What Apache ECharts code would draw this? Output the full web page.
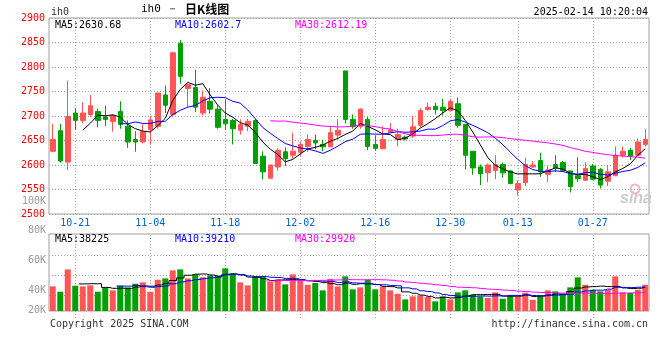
<!DOCTYPE html>
<html><head><meta charset="utf-8">
<script src="https://cdn.jsdelivr.net/npm/echarts@6/dist/echarts.min.js"></script>
<style>html,body{margin:0;padding:0;background:#fff}#c{width:660px;height:360px}</style>
</head><body><div id="c"></div>
<script>
const dates = ['10-16','10-17','10-18',
'10-21','10-22','10-23','10-24','10-25','10-28','10-29','10-30','10-31',
'11-01','11-04','11-05','11-06','11-07','11-08','11-11','11-12','11-13','11-14','11-15','11-18','11-19','11-20','11-21','11-22','11-25','11-26','11-27','11-28','11-29',
'12-02','12-03','12-04','12-05','12-06','12-09','12-10','12-11','12-12','12-13','12-16','12-17','12-18','12-19','12-20','12-23','12-24','12-25','12-26','12-27',
'12-30','12-31','01-02','01-03','01-06','01-07','01-08','01-09','01-10',
'01-13','01-14','01-15','01-16','01-17','01-20','01-21','01-22','01-23','01-24',
'01-27','02-06','02-07','02-10','02-11','02-12','02-13','02-14'];
const labelDates = ['10-21','11-04','11-18','12-02','12-16','12-30','01-13','01-27'];
const opens = [2628,2670,2606,2706,2691,2703,2709,2698,2689,2709,
2679,2652,2647,2672,2679,2743,2703,2848,2756,2758,
2706,2730,2714,2693,2691,2671,2679,2691,2618,2573,
2596,2627,2620,2626,2638,2650,2642,2637,2661,2792,
2693,2679,2693,2642,2633,2667,2652,2657,2659,2681,
2713,2720,2718,2711,2725,2683,2628,2596,2584,2589,
2601,2588,2549,2564,2596,2609,2581,2601,2605,2588,
2578,2569,2598,2591,2567,2578,2620,2630,2620,2642];
const closes = [2652,2608,2699,2691,2706,2721,2691,2693,2701,2683,
2647,2647,2668,2692,2747,2722,2829,2781,2764,2718,
2738,2714,2677,2684,2674,2683,2689,2603,2586,2600,
2630,2613,2628,2642,2652,2645,2637,2666,2671,2693,
2679,2714,2638,2634,2652,2672,2662,2653,2678,2711,
2718,2713,2711,2730,2681,2620,2594,2582,2600,2601,
2584,2562,2562,2601,2600,2586,2590,2594,2589,2556,
2572,2593,2571,2559,2586,2620,2628,2618,2647,2652];
const highs = [2684,2684,2772,2716,2728,2743,2715,2721,2704,2730,
2691,2669,2683,2700,2747,2762,2831,2855,2767,2794,
2752,2757,2721,2734,2694,2693,2694,2694,2628,2600,
2634,2636,2666,2647,2662,2662,2652,2679,2693,2792,
2703,2716,2698,2660,2679,2686,2674,2660,2700,2716,
2727,2727,2735,2735,2738,2683,2628,2601,2603,2620,
2605,2588,2569,2615,2608,2625,2598,2620,2608,2588,
2616,2606,2602,2594,2599,2638,2638,2635,2654,2674];
const lows = [2626,2605,2590,2672,2685,2698,2677,2680,2668,2674,
2635,2627,2644,2642,2674,2706,2698,2766,2718,2708,
2701,2705,2674,2672,2642,2662,2669,2603,2571,2573,
2588,2598,2613,2618,2627,2632,2628,2637,2652,2685,
2674,2674,2630,2630,2633,2666,2638,2650,2655,2677,
2711,2703,2701,2710,2676,2591,2580,2559,2565,2571,
2574,2562,2537,2557,2594,2576,2565,2586,2586,2544,
2565,2567,2569,2552,2557,2578,2615,2610,2620,2638];
const volumes = [39700,35400,53300,40200,39700,40500,35400,38600,36500,40200,
38900,41800,42900,35400,45000,46100,52500,53300,46100,49300,
46900,48500,48200,54100,50100,42900,40500,47700,47700,43200,
45000,41300,49300,44200,41000,42400,36500,45600,39700,47700,
37300,38900,45000,37300,39700,36500,33800,29300,31700,32500,
31200,27700,31700,29300,34900,36500,33000,31700,30400,34900,
29800,32500,31700,34600,29000,32500,36500,35700,33800,38900,
46900,41000,37000,35700,37000,47700,34900,34400,37000,41000];
const maLabels = ['MA5:2630.68','MA10:2602.7','MA30:2612.19'];
const volMaLabels = ['MA5:38225','MA10:39210','MA30:29920'];
const volTickLabels = ['100K','80K','60K','40K','20K'];
const volGridValues = [64400, 48600, 32800];

const RED = '#ff5555', GREEN = '#00a000', GRIDC = '#a8a8a8';
const MONO = 'DejaVu Sans Mono';
const maColors = ['#000000','#0000ff','#ff00ff'];

function ma(arr, n) {
  return arr.map((v, i) => {
    if (i < n - 1) return null;
    let s = 0;
    for (let k = i - n + 1; k <= i; k++) s += arr[k];
    return +(s / n).toFixed(2);
  });
}

const ohlc = opens.map((o, i) => [o, closes[i], lows[i], highs[i]]);
const volData = volumes.map((v, i) => ({ value: v, itemStyle: { color: closes[i] >= opens[i] ? RED : GREEN } }));
const isLabel = (i, v) => labelDates.indexOf(v === undefined ? dates[i] : v) >= 0;

const vLines = {
  silent: true, symbol: ['none', 'none'], z: 1, animation: false,
  label: { show: false }, emphasis: { disabled: true },
  lineStyle: { color: GRIDC, type: [1, 2], width: 1 },
  data: labelDates.map(d => ({ xAxis: d }))
};
const vLinesVol = Object.assign({}, vLines, {
  data: labelDates.map(d => ({ xAxis: d })).concat(volGridValues.map(v => ({ yAxis: v })))
});

const periods = [5, 10, 30];
const priceMA = periods.map((p, k) => ({
  type: 'line', xAxisIndex: 0, yAxisIndex: 0, data: ma(closes, p), symbol: 'none', z: 3,
  lineStyle: { width: 1, color: maColors[k] }, itemStyle: { color: maColors[k] }, silent: true
}));
const volMA = periods.map((p, k) => ({
  type: 'line', xAxisIndex: 1, yAxisIndex: 1, data: ma(volumes, p), symbol: 'none', z: 3, step: 'middle',
  lineStyle: { width: 1, color: maColors[k] }, itemStyle: { color: maColors[k] }, silent: true
}));

function txt(x, y, text, fill, align, font) {
  return { type: 'text', x: x, y: y, silent: true, z: 10,
    style: { text: text, fill: fill, font: font || ('10px ' + MONO),
      textAlign: align || 'left', textVerticalAlign: 'middle', align: align || 'left', verticalAlign: 'middle' } };
}
const volLabelY = [201, 230, 260, 290, 310];
const graphics = [
  txt(51, 12, 'ih0', '#333', 'left'),
  { type: 'text', x: 141, y: 9, silent: true, z: 10,
    style: { text: '{a|ih0 － }{b|日K线图}', textVerticalAlign: 'middle', verticalAlign: 'middle',
      rich: { a: { fontFamily: MONO, fontSize: 11, fill: '#000', color: '#000' },
              b: { fontFamily: 'Noto Sans CJK SC', fontSize: 12, fontWeight: 'bold', fill: '#000', color: '#000' } } } },
  txt(648, 12, '2025-02-14 10:20:04', '#000', 'right'),
  txt(55, 25, maLabels[0], maColors[0]),
  txt(175, 25, maLabels[1], maColors[1]),
  txt(295, 25, maLabels[2], maColors[2]),
  txt(55, 239, volMaLabels[0], maColors[0]),
  txt(175, 239, volMaLabels[1], maColors[1]),
  txt(295, 239, volMaLabels[2], maColors[2]),
  txt(50, 324, 'Copyright 2025 SINA.COM', '#333'),
  txt(648, 324, 'http://finance.sina.com.cn', '#333', 'right'),
  txt(620, 199, 'sina', '#cccccc', 'left', 'italic bold 16px "Liberation Sans"'),
  { type: 'circle', shape: { cx: 635, cy: 189, r: 4.5 }, silent: true, z: 9,
    style: { fill: 'none', stroke: '#f2b8b8', lineWidth: 2 } }
].concat(volTickLabels.map((t, k) => txt(46, volLabelY[k], t, '#999', 'right')));

const chart = echarts.init(document.getElementById('c'), null, { renderer: 'canvas' });
chart.setOption({
  animation: false,
  backgroundColor: '#fff',
  grid: [
    { left: 49, top: 18, width: 600, height: 196, show: true, borderColor: '#a0a0a0', borderWidth: 1, backgroundColor: 'transparent' },
    { left: 49, top: 234, width: 600, height: 77, show: true, borderColor: '#a0a0a0', borderWidth: 1, backgroundColor: 'transparent' }
  ],
  xAxis: [
    { type: 'category', gridIndex: 0, data: dates, boundaryGap: true,
      axisLine: { show: false }, axisTick: { show: false }, splitLine: { show: false },
      axisLabel: { interval: isLabel, color: '#0066cc', fontFamily: MONO, fontSize: 10, margin: 4 } },
    { type: 'category', gridIndex: 1, data: dates, boundaryGap: true,
      axisLine: { show: false }, splitLine: { show: false }, axisLabel: { show: false },
      axisTick: { show: true, alignWithLabel: true, interval: isLabel, length: 9,
        lineStyle: { color: GRIDC, type: [1, 2], width: 1 } } }
  ],
  yAxis: [
    { type: 'value', gridIndex: 0, min: 2500, max: 2900, interval: 50,
      axisLine: { show: false }, axisTick: { show: false },
      axisLabel: { color: '#ff0000', fontFamily: MONO, fontSize: 10, margin: 4, padding: [0, 0, 3, 0],
        formatter: v => String(v) },
      splitLine: { show: true, lineStyle: { color: GRIDC, type: [1, 2], width: 1 } } },
    { type: 'value', gridIndex: 1, min: 20000, max: 81600,
      axisLine: { show: false }, axisTick: { show: false }, axisLabel: { show: false }, splitLine: { show: false } }
  ],
  graphic: graphics,
  series: [
    { type: 'candlestick', xAxisIndex: 0, yAxisIndex: 0, data: ohlc, barWidth: 5, z: 2,
      itemStyle: { color: RED, color0: GREEN, borderColor: RED, borderColor0: GREEN, borderWidth: 1 },
      markLine: vLines }
  ].concat(priceMA).concat([
    { type: 'bar', xAxisIndex: 1, yAxisIndex: 1, data: volData, barWidth: 6, z: 2, silent: true,
      markLine: vLinesVol }
  ]).concat(volMA)
});
</script></body></html>
